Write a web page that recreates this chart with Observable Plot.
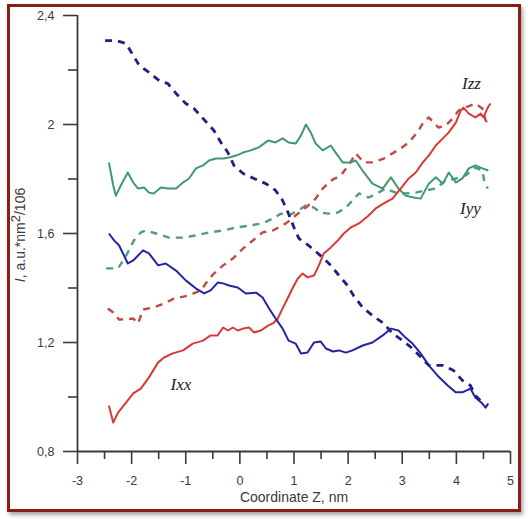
<!DOCTYPE html>
<html>
<head>
<meta charset="utf-8">
<script src="https://cdn.jsdelivr.net/npm/d3@7"></script>
<script src="https://cdn.jsdelivr.net/npm/@observablehq/plot@0.6"></script>
<style>
  html, body { margin: 0; padding: 0; background: #fff; }
  #wrap { position: relative; width: 528px; height: 519px; overflow: hidden; }
  #chart { position: absolute; left: 0; top: 0; }
  #frame { position: absolute; left: 7px; top: 4px; width: 508px; height: 502px;
           border: 3px solid #8a1d16; box-shadow: 2px 3px 4px rgba(0,0,0,0.35);
           pointer-events: none; }
</style>
</head>
<body>
<div id="wrap"><div id="chart"></div><div id="frame"></div></div>
<script>
// ---- data (x = Coordinate Z, nm ; y = I, a.u.*nm2/10^6) ----
const xTicks = [-3, -2, -1, 0, 1, 2, 3, 4, 5];
const xMinorTicks = [-2.5, -1.5, -0.5, 0.5, 1.5, 2.5, 3.5, 4.5];
const yTicks = [0.8, 1.2, 1.6, 2, 2.4];
const yMinorTicks = [1.0, 1.4, 1.8, 2.2];

const blueSolid = [[-2.42,1.600],[-2.32,1.574],[-2.23,1.556],[-2.07,1.490],[-1.97,1.501],[-1.79,1.538],[-1.68,1.527],[-1.51,1.483],[-1.37,1.490],[-1.18,1.464],[-1.00,1.428],[-0.81,1.398],[-0.66,1.380],[-0.54,1.391],[-0.41,1.420],[-0.31,1.417],[-0.20,1.409],[-0.04,1.402],[0.11,1.380],[0.30,1.383],[0.42,1.365],[0.54,1.325],[0.66,1.288],[0.79,1.251],[0.90,1.207],[1.03,1.196],[1.13,1.160],[1.25,1.163],[1.37,1.200],[1.49,1.204],[1.59,1.178],[1.72,1.167],[1.83,1.171],[1.96,1.163],[2.08,1.171],[2.27,1.189],[2.45,1.200],[2.64,1.226],[2.79,1.251],[2.93,1.244],[3.06,1.218],[3.19,1.196],[3.34,1.160],[3.49,1.116],[3.65,1.079],[3.84,1.042],[3.99,1.017],[4.11,1.017],[4.26,1.031],[4.35,0.998],[4.48,0.976],[4.54,0.961],[4.59,0.976]];

const blueDashed = [[-2.49,2.308],[-2.29,2.308],[-2.10,2.297],[-1.97,2.253],[-1.86,2.217],[-1.68,2.191],[-1.49,2.161],[-1.33,2.150],[-1.18,2.114],[-1.00,2.077],[-0.85,2.059],[-0.68,2.022],[-0.48,1.978],[-0.35,1.934],[-0.22,1.897],[-0.11,1.850],[0.06,1.820],[0.26,1.802],[0.48,1.783],[0.66,1.758],[0.79,1.721],[0.89,1.677],[1.00,1.622],[1.09,1.582],[1.27,1.556],[1.49,1.519],[1.68,1.483],[1.83,1.446],[1.99,1.409],[2.10,1.372],[2.27,1.328],[2.45,1.299],[2.66,1.270],[2.82,1.233],[3.01,1.207],[3.19,1.178],[3.49,1.116],[3.75,1.116],[3.95,1.097],[4.11,1.061],[4.26,1.042],[4.35,1.006],[4.48,0.980]];

const greenSolid = [[-2.42,1.861],[-2.34,1.776],[-2.29,1.739],[-2.20,1.776],[-2.07,1.824],[-1.97,1.787],[-1.88,1.765],[-1.77,1.769],[-1.68,1.750],[-1.59,1.747],[-1.46,1.769],[-1.33,1.765],[-1.18,1.765],[-1.05,1.787],[-0.94,1.802],[-0.81,1.839],[-0.68,1.850],[-0.57,1.868],[-0.44,1.875],[-0.31,1.875],[-0.20,1.879],[-0.07,1.886],[0.06,1.897],[0.20,1.905],[0.35,1.916],[0.52,1.941],[0.66,1.934],[0.79,1.949],[0.90,1.934],[1.03,1.930],[1.13,1.960],[1.22,2.000],[1.31,1.971],[1.40,1.930],[1.53,1.905],[1.68,1.923],[1.77,1.897],[1.90,1.861],[2.05,1.861],[2.14,1.868],[2.29,1.824],[2.45,1.783],[2.64,1.765],[2.79,1.806],[2.93,1.765],[3.06,1.739],[3.21,1.732],[3.34,1.728],[3.49,1.783],[3.62,1.806],[3.75,1.783],[3.86,1.824],[3.99,1.787],[4.11,1.802],[4.23,1.839],[4.35,1.850],[4.48,1.839],[4.59,1.831]];

const greenDashed = [[-2.47,1.472],[-2.25,1.472],[-2.10,1.519],[-1.96,1.574],[-1.83,1.604],[-1.73,1.611],[-1.55,1.600],[-1.31,1.585],[-1.05,1.585],[-0.81,1.593],[-0.57,1.604],[-0.31,1.611],[-0.07,1.622],[0.17,1.629],[0.42,1.637],[0.61,1.655],[0.76,1.673],[0.90,1.666],[1.07,1.684],[1.22,1.703],[1.37,1.695],[1.49,1.677],[1.64,1.673],[1.81,1.677],[1.96,1.695],[2.08,1.721],[2.20,1.747],[2.38,1.732],[2.56,1.750],[2.69,1.765],[2.88,1.750],[3.06,1.747],[3.25,1.750],[3.43,1.758],[3.62,1.765],[3.80,1.794],[3.99,1.802],[4.17,1.813],[4.35,1.842],[4.48,1.831],[4.52,1.787],[4.58,1.765]];

const redSolid = [[-2.42,0.969],[-2.34,0.906],[-2.25,0.943],[-2.10,0.980],[-1.97,1.013],[-1.83,1.031],[-1.68,1.072],[-1.51,1.127],[-1.40,1.145],[-1.24,1.160],[-1.05,1.171],[-0.87,1.196],[-0.68,1.207],[-0.54,1.226],[-0.41,1.226],[-0.31,1.255],[-0.22,1.244],[-0.13,1.255],[-0.04,1.244],[0.06,1.251],[0.17,1.255],[0.26,1.237],[0.39,1.244],[0.52,1.262],[0.61,1.270],[0.70,1.288],[0.79,1.325],[0.89,1.365],[0.98,1.402],[1.07,1.435],[1.16,1.453],[1.25,1.439],[1.37,1.446],[1.46,1.483],[1.55,1.527],[1.68,1.549],[1.81,1.574],[1.92,1.600],[2.05,1.622],[2.20,1.637],[2.38,1.666],[2.51,1.692],[2.69,1.714],[2.82,1.728],[2.97,1.765],[3.12,1.802],[3.25,1.824],[3.38,1.861],[3.49,1.886],[3.62,1.923],[3.75,1.949],[3.86,1.971],[3.99,2.007],[4.08,2.051],[4.13,2.062],[4.23,2.040],[4.35,2.026],[4.45,2.040],[4.50,2.026],[4.58,2.062],[4.63,2.077]];

const redDashed = [[-2.44,1.325],[-2.34,1.310],[-2.23,1.284],[-1.97,1.288],[-1.88,1.270],[-1.79,1.321],[-1.61,1.328],[-1.40,1.343],[-1.22,1.361],[-0.96,1.372],[-0.72,1.391],[-0.59,1.428],[-0.48,1.453],[-0.31,1.483],[-0.13,1.508],[0.06,1.545],[0.42,1.604],[0.61,1.611],[0.85,1.637],[1.03,1.666],[1.22,1.695],[1.40,1.728],[1.53,1.765],[1.68,1.794],[1.86,1.813],[2.01,1.850],[2.14,1.894],[2.29,1.861],[2.45,1.861],[2.66,1.875],[2.82,1.894],[2.97,1.912],[3.12,1.934],[3.28,1.971],[3.39,2.007],[3.49,2.026],[3.58,2.007],[3.67,1.989],[3.80,1.996],[3.93,2.022],[4.04,2.051],[4.21,2.066],[4.35,2.077],[4.48,2.059],[4.54,2.015],[4.58,2.004]];

const curveLabels = [
  {text: "Izz", x: 4.28, y: 2.152},
  {text: "Iyy", x: 4.26, y: 1.690},
  {text: "Ixx", x: -1.09, y: 1.046}
];

const fmt = d => String(d).replace(".", ",");
const seriesMark = (data, stroke, dash, width) =>
  Plot.line(data, {x: d => d[0], y: d => d[1], stroke, strokeWidth: width,
    strokeDasharray: dash, strokeLinejoin: "round", strokeLinecap: "butt"});

const chart = Plot.plot({
  width: 528, height: 519,
  marginLeft: 77, marginRight: 18, marginTop: 15, marginBottom: 68,
  x: {domain: [-3, 5]},
  y: {domain: [0.8, 2.4]},
  style: {fontFamily: "'Liberation Sans', Arial, sans-serif", fontSize: "12.5px", color: "#3a3a3a", background: "white"},
  marks: [
    Plot.axisX({ticks: xTicks, tickSize: 13, tickPadding: 12, tickFormat: fmt, label: null, strokeWidth: 1.6}),
    Plot.axisX({ticks: xMinorTicks, tickSize: 8, tickFormat: () => "", label: null, strokeWidth: 1.6}),
    Plot.axisY({ticks: yTicks, tickSize: 14, tickPadding: 9, tickFormat: fmt, label: null, strokeWidth: 1.6}),
    Plot.axisY({ticks: yMinorTicks, tickSize: 9, tickFormat: () => "", label: null, strokeWidth: 1.6}),
    Plot.ruleY([0.8], {stroke: "#3a3a3a", strokeWidth: 1.8}),
    Plot.ruleX([-3], {stroke: "#3a3a3a", strokeWidth: 1.8}),
    seriesMark(greenDashed, "#4f9d7c", "7,6", 2.4),
    seriesMark(redDashed, "#c04a44", "7,6", 2.4),
    seriesMark(blueDashed, "#20207e", "7,6", 2.8),
    seriesMark(greenSolid, "#3f9a72", null, 2),
    seriesMark(redSolid, "#d83a38", null, 2),
    seriesMark(blueSolid, "#2323a6", null, 2),
    Plot.text(curveLabels, {x: "x", y: "y", text: "text", fontFamily: "'Liberation Serif', 'Times New Roman', serif",
      fontStyle: "italic", fontSize: 17, fill: "#222"}),
    Plot.text(["Coordinate Z, nm"], {frameAnchor: "bottom", dy: 46, lineAnchor: "middle", fontSize: 14, fill: "#3a3a3a"})
  ]
});

const svg = d3.select(chart);
const yl = svg.append("text")
  .attr("transform", "translate(21,235) rotate(-90)")
  .attr("text-anchor", "middle")
  .attr("dominant-baseline", "middle")
  .attr("font-size", 14)
  .attr("fill", "#3a3a3a");
yl.append("tspan").attr("font-style", "italic").text("I");
yl.append("tspan").text(", a.u.*nm");
yl.append("tspan").attr("dy", -4).attr("font-size", 13).text("2");
yl.append("tspan").attr("dy", 4).text("/106");

document.getElementById("chart").appendChild(chart);
</script>
</body>
</html>
